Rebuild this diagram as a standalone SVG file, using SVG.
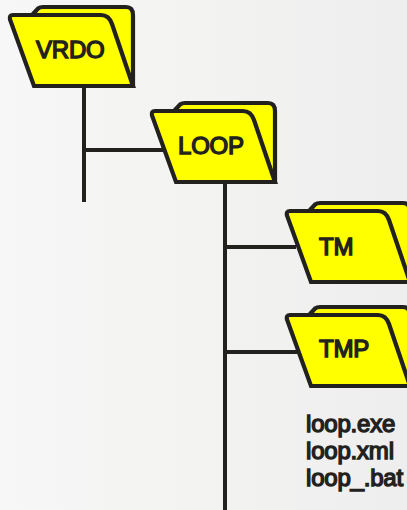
<svg xmlns="http://www.w3.org/2000/svg" width="407" height="510" viewBox="0 0 407 510">
<defs>
<linearGradient id="bg" x1="0" y1="0" x2="1" y2="0"><stop offset="0" stop-color="#f7f7f7"/><stop offset="0.45" stop-color="#f3f3f2"/><stop offset="1" stop-color="#eeeeee"/></linearGradient>
<g id="folder">
<path class="f" d="M24 7 L29 1.500 Q31 0 34 0 L117 0 Q124 0 124 8 L124 79 L60 79 Z"/>
<path class="f" d="M4 8 Q0 8 1 12.500 L25 79 L124 79 L103 17 Q100 8 92 8 Z"/>
</g>
<style>
.f{fill:#ffff00;stroke:#23211e;stroke-width:4.200;stroke-linejoin:miter;stroke-miterlimit:8}
.c{fill:none;stroke:#23211e;stroke-width:4}
.t{font-family:"Liberation Sans",Arial,sans-serif;fill:#23211e;stroke:#23211e;stroke-width:1.400;font-size:24px;letter-spacing:-.2px}
</style>
</defs>
<rect width="407" height="510" fill="url(#bg)"/>
<g id="connectors">
<path class="c" d="M84 86V202M84 150H165M225 183V510M225 247H296M225 352H297"/>
</g>
<g id="vrdo"><use href="#folder" x="9" y="7"/><text class="t" x="36" y="58">VRDO</text></g>
<g id="loop"><use href="#folder" x="151" y="103"/><text class="t" x="178" y="154">LOOP</text></g>
<g id="tm"><use href="#folder" x="286" y="203"/><text class="t" x="319" y="255">TM</text></g>
<g id="tmp"><use href="#folder" x="286" y="307"/><text class="t" x="319" y="357">TMP</text></g>
<g id="files">
<text class="t" x="306" y="432">loop.exe</text>
<text class="t" x="306" y="459">loop.xml</text>
<text class="t" x="306" y="486">loop_.bat</text>
</g>
</svg>
